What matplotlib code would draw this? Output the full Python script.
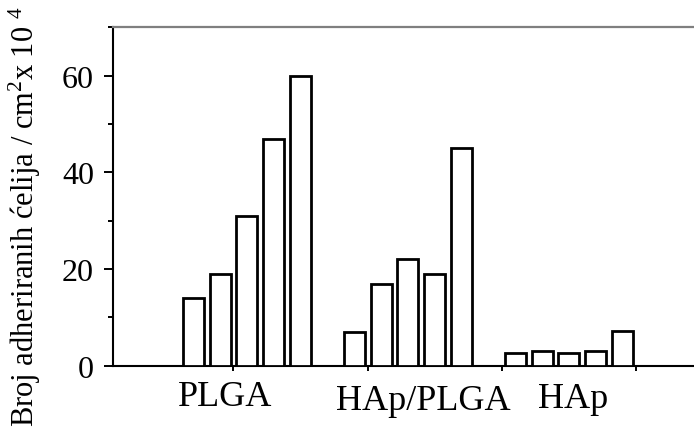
import matplotlib
matplotlib.use("Agg")
import matplotlib.pyplot as plt
import numpy as np

# Adhered cell counts (x 10^4 per cm^2) for five time points per material
groups = ["PLGA", "HAp/PLGA", "HAp"]
plga = [14, 19, 31, 47, 60]
hap_plga = [7, 17, 22, 19, 45]
hap = [2.7, 3.1, 2.6, 3.1, 7.1]
y_ticks = [0, 20, 40, 60]

plt.rcParams["font.family"] = ["Liberation Serif", "DejaVu Serif"]
plt.rcParams["mathtext.fontset"] = "custom"
plt.rcParams["mathtext.rm"] = "Liberation Serif"
plt.rcParams["mathtext.it"] = "Liberation Serif:italic"

fig = plt.figure(figsize=(6.94, 4.35), dpi=100)
ax = fig.add_axes([0.1624, 0.157, 1 - 0.1624, 0.7777])

series = [plga, hap_plga, hap]
starts = [1, 7, 13]
for s, vals in zip(starts, series):
    x = np.arange(len(vals)) + s
    ax.bar(x, vals, width=0.78, facecolor="white", edgecolor="black",
           linewidth=2.0, zorder=3)

ax.set_xlim(-2.0, 19.66)
ax.set_ylim(0, 70)

ax.set_yticks(y_ticks)
ax.set_yticks([10, 30, 50, 70], minor=True)
ax.set_xticks([2.5, 7.5, 12.5, 17.5])
ax.set_xticklabels([])

ax.tick_params(axis="y", which="major", direction="out", length=6.5,
               width=1.4, labelsize=23, pad=7)
ax.tick_params(axis="y", which="minor", direction="out", length=3.6,
               width=1.4)
ax.tick_params(axis="x", which="major", direction="out", length=3.6,
               width=1.4)

for side in ("left", "bottom"):
    ax.spines[side].set_linewidth(1.5)
ax.spines["right"].set_visible(False)
ax.spines["top"].set_color("#7f7f7f")
ax.spines["top"].set_linewidth(1.6)

# Group names under the bars
label_x = [2.18, 9.57, 15.16]
label_y = [-0.1153, -0.128, -0.123]
for name, lx, ly in zip(groups, label_x, label_y):
    ax.text(lx, ly, name, transform=ax.get_xaxis_transform(),
            ha="center", va="baseline", fontsize=26)

fig.text(0.036, 0.502, r"Broj adheriranih ćelija / cm$^2$x 10 $^4$",
         rotation=90, ha="center", va="center", fontsize=22)

fig.savefig("out.png", dpi=100)
